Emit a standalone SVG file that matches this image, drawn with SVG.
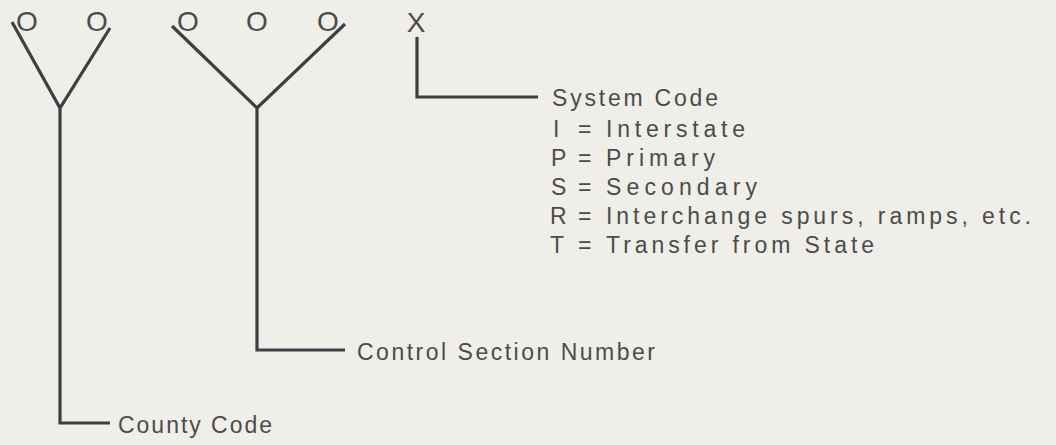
<svg xmlns="http://www.w3.org/2000/svg" width="1056" height="445" viewBox="0 0 1056 445">
<style>
.bg{fill:#f0eee9}
.ln{fill:none;stroke:#3e3f44;stroke-width:3.2;stroke-linejoin:miter;stroke-linecap:butt}
.ph{font-family:"Liberation Sans",Arial,sans-serif;font-size:28px;fill:#4a4b4d;text-anchor:middle}
.t{font-family:"Liberation Sans",Arial,sans-serif;font-size:23px;fill:#4a4c49}
</style>
<rect class="bg" x="0" y="0" width="1056" height="445"/>
<g id="placeholders">
<text class="ph" x="27" y="31">O</text>
<text class="ph" x="97" y="31">O</text>
<text class="ph" x="188" y="31">O</text>
<text class="ph" x="257" y="31">O</text>
<text class="ph" x="328" y="31">O</text>
<text class="ph" x="416" y="32">X</text>
</g>
<g id="connectors">
<path class="ln" d="M12,22 L60,108 L110,28 M60,108 L60,423 L110,423"/>
<path class="ln" d="M172,26 L257,108 L345,24 M257,108 L257,350 L345,350"/>
<path class="ln" d="M417,37 L417,97 L538,97"/>
</g>
<g id="system-code">
<text class="t" x="552" y="106" textLength="166" lengthAdjust="spacing">System Code</text>
<text class="t" x="553" y="137">I</text><text class="t" x="578" y="137">=</text><text class="t" x="606" y="137" textLength="139" lengthAdjust="spacing">Interstate</text>
<text class="t" x="551" y="166">P</text><text class="t" x="578" y="166">=</text><text class="t" x="606" y="166" textLength="109" lengthAdjust="spacing">Primary</text>
<text class="t" x="551" y="195">S</text><text class="t" x="578" y="195">=</text><text class="t" x="606" y="195" textLength="151" lengthAdjust="spacing">Secondary</text>
<text class="t" x="550" y="224">R</text><text class="t" x="578" y="224">=</text><text class="t" x="606" y="224" textLength="425" lengthAdjust="spacing">Interchange spurs, ramps, etc.</text>
<text class="t" x="550" y="253">T</text><text class="t" x="578" y="253">=</text><text class="t" x="606" y="253" textLength="268" lengthAdjust="spacing">Transfer from State</text>
</g>
<g id="control-section">
<text class="t" x="357" y="360" textLength="298" lengthAdjust="spacing">Control Section Number</text>
</g>
<g id="county-code">
<text class="t" x="118" y="433" textLength="154" lengthAdjust="spacing">County Code</text>
</g>
</svg>
